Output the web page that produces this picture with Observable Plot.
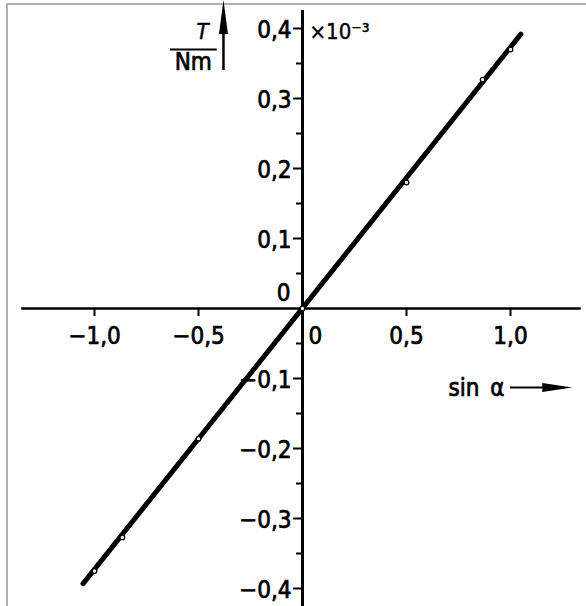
<!DOCTYPE html>
<html><head><meta charset="utf-8">
<script src="https://cdn.jsdelivr.net/npm/d3@7"></script>
<script src="https://cdn.jsdelivr.net/npm/@observablehq/plot@0.6"></script>
<style>
html,body{margin:0;padding:0;background:#fff;}
#wrap{position:relative;width:586px;height:606px;overflow:hidden;}
#border{position:absolute;left:6px;top:3px;right:-10px;bottom:-10px;border-top:2px solid #b0b0b0;border-left:2px solid #b0b0b0;}
#chart{position:absolute;left:0;top:0;}
</style></head><body>
<div id="wrap"><div id="border"></div><div id="chart"></div></div>
<script>
// measured points: sin(alpha) vs torque T (units of 1e-3 N m)
const sinAlpha = [-1.0, -0.866, -0.5, 0, 0.5, 0.866, 1.0];
const torque = [-0.375, -0.327, -0.186, 0, 0.18, 0.327, 0.37];
// fitted straight line endpoints
const fitSin = [-1.055, 1.05];
const fitTorque = [-0.393, 0.392];
// axis ticks
const xTicks = [-1.0, -0.5, 0.5, 1.0];
const xTickLabels = ["−1,0", "−0,5", "0,5", "1,0"];
const yTicks = [0.4, 0.3, 0.2, 0.1, -0.1, -0.2, -0.3, -0.4];
const yTickLabels = ["0,4", "0,3", "0,2", "0,1", "−0,1", "−0,2", "−0,3", "−0,4"];
const yMinorTicks = [0.35, 0.25, 0.15, 0.05, -0.05, -0.15, -0.25, -0.35];

const points = sinAlpha.map((s, i) => ({s, t: torque[i]}));
const fit = fitSin.map((s, i) => ({s, t: fitTorque[i]}));
const xt = xTicks.map((v, i) => ({v, label: xTickLabels[i]}));
const yt = yTicks.map((v, i) => ({v, label: yTickLabels[i]}));

const W = 586, H = 606;
const x0 = 302, y0 = 308, kx = 208, ky = 700;
const FONT = "DejaVu Sans Condensed";
const FS = 24;
const T = {fontSize: FS, fill: "#000", stroke: "#000", strokeWidth: 0.7};

const arrowRight = {draw(ctx) { ctx.moveTo(16, 0); ctx.lineTo(-14, -4.5); ctx.lineTo(-14, 4.5); ctx.closePath(); }};
const arrowUp = {draw(ctx) { ctx.moveTo(0, -18); ctx.lineTo(-4.5, 16); ctx.lineTo(4.5, 16); ctx.closePath(); }};

const chart = Plot.plot({
  width: W, height: H, margin: 0,
  style: {fontFamily: FONT, background: "transparent", color: "#000"},
  x: {domain: [-x0 / kx, (W - x0) / kx], range: [0, W], axis: null},
  y: {domain: [(y0 - H) / ky, y0 / ky], range: [H, 0], axis: null},
  marks: [
    // axes
    Plot.ruleY([0], {x1: -1.35, x2: 1.34, stroke: "#000", strokeWidth: 2.5}),
    Plot.ruleX([0], {y1: (y0 - H) / ky, y2: (y0 - 10) / ky, stroke: "#000", strokeWidth: 3}),
    // x ticks
    Plot.ruleX(xt, {x: "v", y1: 0, y2: -8 / ky, stroke: "#000", strokeWidth: 2}),
    Plot.text(xt, {x: "v", y: 0, text: "label", dy: 28, ...T}),
    Plot.text(["0"], {x: 0, y: 0, dx: 6, dy: 28, textAnchor: "start", ...T}),
    // y ticks
    Plot.ruleY(yt, {y: "v", x1: 0, x2: -9 / kx, stroke: "#000", strokeWidth: 2}),
    Plot.ruleY(yMinorTicks, {x1: 0, x2: -6 / kx, stroke: "#000", strokeWidth: 2}),
    Plot.text(yt, {x: 0, y: "v", text: "label", dx: -11, dy: 2, textAnchor: "end", ...T}),
    Plot.text(["0"], {x: 0, y: 0, dx: -12, dy: -15, textAnchor: "end", ...T}),
    Plot.text(["×10⁻³"], {x: 0, y: 0.4, dx: 7, dy: 3, textAnchor: "start", fontSize: 22, fill: "#000", stroke: "#000", strokeWidth: 0.4}),
    // y-axis label  T / Nm with arrow
    Plot.text(["T"], {x: -0.48, y: 0.4, dy: 3, fontSize: 22, fontStyle: "italic", fill: "#000", stroke: "#000", strokeWidth: 0.5}),
    Plot.ruleY([0.37], {x1: -0.635, x2: -0.41, stroke: "#000", strokeWidth: 2}),
    Plot.text(["Nm"], {x: -0.525, y: 0.37, dy: 13, ...T}),
    Plot.ruleX([-0.38], {y1: 0.34, y2: 0.40, stroke: "#000", strokeWidth: 2.5}),
    Plot.dot([0], {x: -0.38, y: 0.415, symbol: arrowUp, fill: "#000", stroke: "none"}),
    // x-axis label sin α with arrow
    Plot.text(["sin\u2002α"], {x: 1.0, y: -0.113, dx: -6, dy: 1, textAnchor: "end", ...T}),
    Plot.ruleY([-0.113], {x1: 1.0, x2: 1.26, stroke: "#000", strokeWidth: 2}),
    Plot.dot([0], {x: 1.22, y: -0.113, symbol: arrowRight, fill: "#000", stroke: "none"}),
    // data
    Plot.line(fit, {x: "s", y: "t", stroke: "#000", strokeWidth: 5}),
    Plot.dot(points, {x: "s", y: "t", r: 2.3, fill: "#fff", stroke: "#000", strokeWidth: 1.3})
  ]
});
document.getElementById("chart").append(chart);
</script>
</body></html>
